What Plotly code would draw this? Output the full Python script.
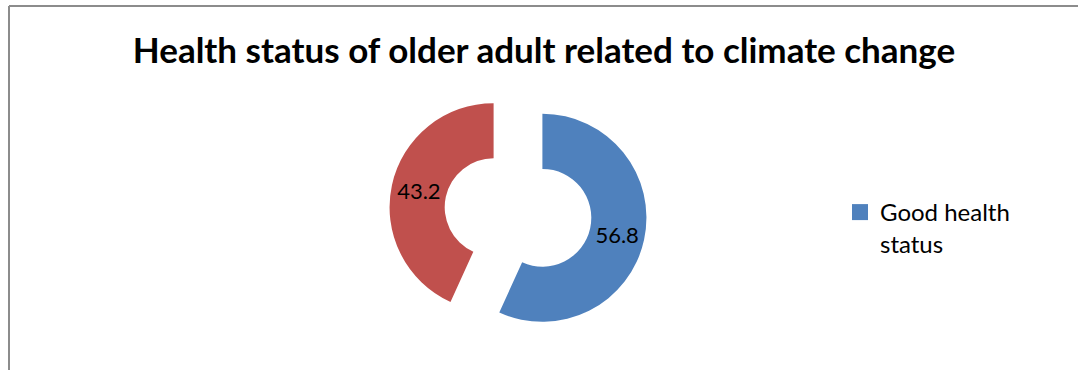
import plotly.graph_objects as go

labels = ["Good health status", "Poor health status"]
values = [56.8, 43.2]
colors = ["#4F81BD", "#C0504D"]
title_text = "Health status of older adult related to climate change"

W, H = 1078, 370
cx, cy = 518, 212.5
half = 129

fig = go.Figure()
fig.add_trace(go.Pie(
    labels=labels, values=values, sort=False, direction="clockwise", rotation=0,
    hole=0.47, pull=[0.24, 0.24],
    marker=dict(colors=colors, line=dict(width=0)),
    textinfo="value", textposition="inside", insidetextorientation="horizontal",
    textfont=dict(family="Lato", size=22, color="black"),
    showlegend=False, hoverinfo="label+value",
    domain=dict(x=[(cx - half) / W, (cx + half) / W],
                y=[(H - cy - half) / H, (H - cy + half) / H]),
))
# legend entry (reference shows only the first category)
fig.add_trace(go.Scatter(
    x=[None], y=[None], mode="markers", name="Good health<br>status",
    marker=dict(symbol="square", size=16, color=colors[0]),
    showlegend=True,
))

fig.update_layout(
    width=W, height=H,
    margin=dict(l=0, r=0, t=0, b=0),
    paper_bgcolor="white", plot_bgcolor="white",
    xaxis=dict(visible=False), yaxis=dict(visible=False),
    title=dict(text="<b>" + title_text + "</b>", x=544 / W, xanchor="center",
               y=1 - 51 / H, yanchor="middle",
               font=dict(family="Lato", size=35, color="black")),
    legend=dict(x=840 / W, y=1 - 190 / H, xanchor="left", yanchor="top",
                valign="top", font=dict(family="Lato", size=24, color="black"),
                bgcolor="rgba(0,0,0,0)"),
    shapes=[
        dict(type="line", xref="paper", yref="paper", x0=9 / W, x1=1, y0=1 - 6 / H, y1=1 - 6 / H,
             line=dict(color="#8c8c8c", width=2)),
        dict(type="line", xref="paper", yref="paper", x0=9 / W, x1=9 / W, y0=0, y1=1 - 6 / H,
             line=dict(color="#8c8c8c", width=2)),
    ],
)

fig.write_html("out.html")
